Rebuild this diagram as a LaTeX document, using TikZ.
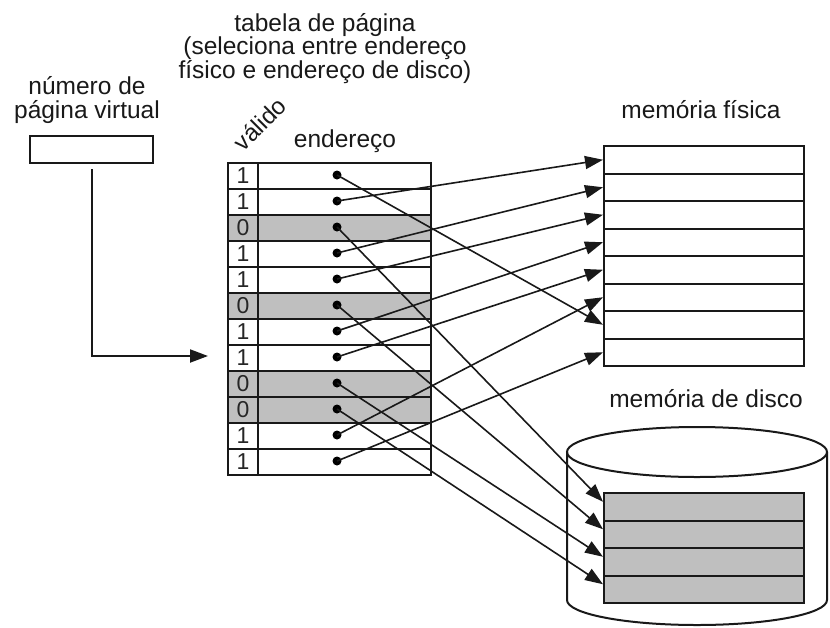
\documentclass[tikz,border=0pt]{standalone}
\usepackage{fontspec}
\setmainfont{Liberation Sans}
\usetikzlibrary{arrows.meta,positioning}

\begin{document}
\begin{tikzpicture}[x=1pt,y=-1pt,
  lbl/.style={font=\fontsize{24.5}{23.5}\selectfont, inner sep=0pt, text=black!90},
  bitcell/.style={draw=black!90, line width=2pt, minimum width=30pt, minimum height=26pt, inner sep=0pt, font=\fontsize{23}{23}\selectfont, text=black!85},
  addrcell/.style={draw=black!90, line width=2pt, minimum width=173pt, minimum height=26pt, inner sep=0pt},
  slot/.style={draw=black!90, line width=2pt, minimum width=200pt, minimum height=27.5pt, inner sep=0pt},
  carr/.style={-{Triangle[length=18pt,width=13pt]}, line width=1.6pt, draw=black!90},
]
\useasboundingbox (0,0) rectangle (830,627);

% --- labels (multi-line ones sit on the baseline of their last line) ---
\node[lbl, align=center, anchor=base] (title) at (325,78)
  {tabela de página\\(seleciona entre endereço\\físico e endereço de disco)};
\node[lbl, align=center, anchor=base] (vpnlbl) at (87,118) {número de\\página virtual};
\node[lbl, anchor=base] (pmlbl) at (701,118) {memória física};
\node[lbl, anchor=base] (dklbl) at (706,407) {memória de disco};
\node[lbl, font=\fontsize{24}{24}\selectfont, rotate=45] (validlbl) at (260,124) {válido};
\node[lbl, anchor=base] (addrlbl) at (345,147) {endereço};

% --- virtual page number box and the arrow into the table ---
\node[draw=black!90, line width=2pt, minimum width=123pt, minimum height=27pt, inner sep=0pt] (vpn) at (91.5,149.5) {};
\coordinate (entry) at (208,356);
\draw[carr, line width=2pt, shorten <=5pt] (vpn.south) |- (entry);

% --- page table: valid bit + address, one row per page ---
\foreach \bit/\col [count=\i] in {1/white,1/white,0/black!25,1/white,1/white,0/black!25,
                                  1/white,1/white,0/black!25,0/black!25,1/white,1/white}{
  \node[bitcell, fill=\col] (v\i) at (243,{150+26*\i}) {\bit};
  \node[addrcell, fill=\col] (a\i) at (344.5,{150+26*\i}) {};
  \coordinate (d\i) at (337,{149+26*\i});
}
\foreach \i in {1,...,12}
  \fill[black] (d\i) circle (4.5pt);

% --- physical memory frames ---
\foreach \k in {1,...,8}
  \node[slot] (pm\k) at (704,{132.25+27.5*\k}) {};

% --- disk: cylinder with its blocks ---
\draw[draw=black!90, line width=2pt] (697,452) ellipse [x radius=130pt, y radius=25pt];
\draw[draw=black!90, line width=2pt] (567,452) -- (567,600)
  arc[start angle=180, end angle=360, x radius=130pt, y radius=25pt] -- (827,452);
\foreach \k in {1,...,4}
  \node[slot, fill=black!25] (dk\k) at (704,{479.25+27.5*\k}) {};

% --- arrows: valid entries into physical memory ---
\foreach \s/\t in {1/7,2/1,4/2,5/3,7/4,8/5,11/6,12/8}
  \draw[carr] (d\s) -- (pm\t.west);

% --- arrows: invalid entries into disk blocks ---
\foreach \s/\t in {3/1,6/2,9/3,10/4}
  \draw[carr] (d\s) -- ([yshift=5pt]dk\t.west);

\end{tikzpicture}
\end{document}
